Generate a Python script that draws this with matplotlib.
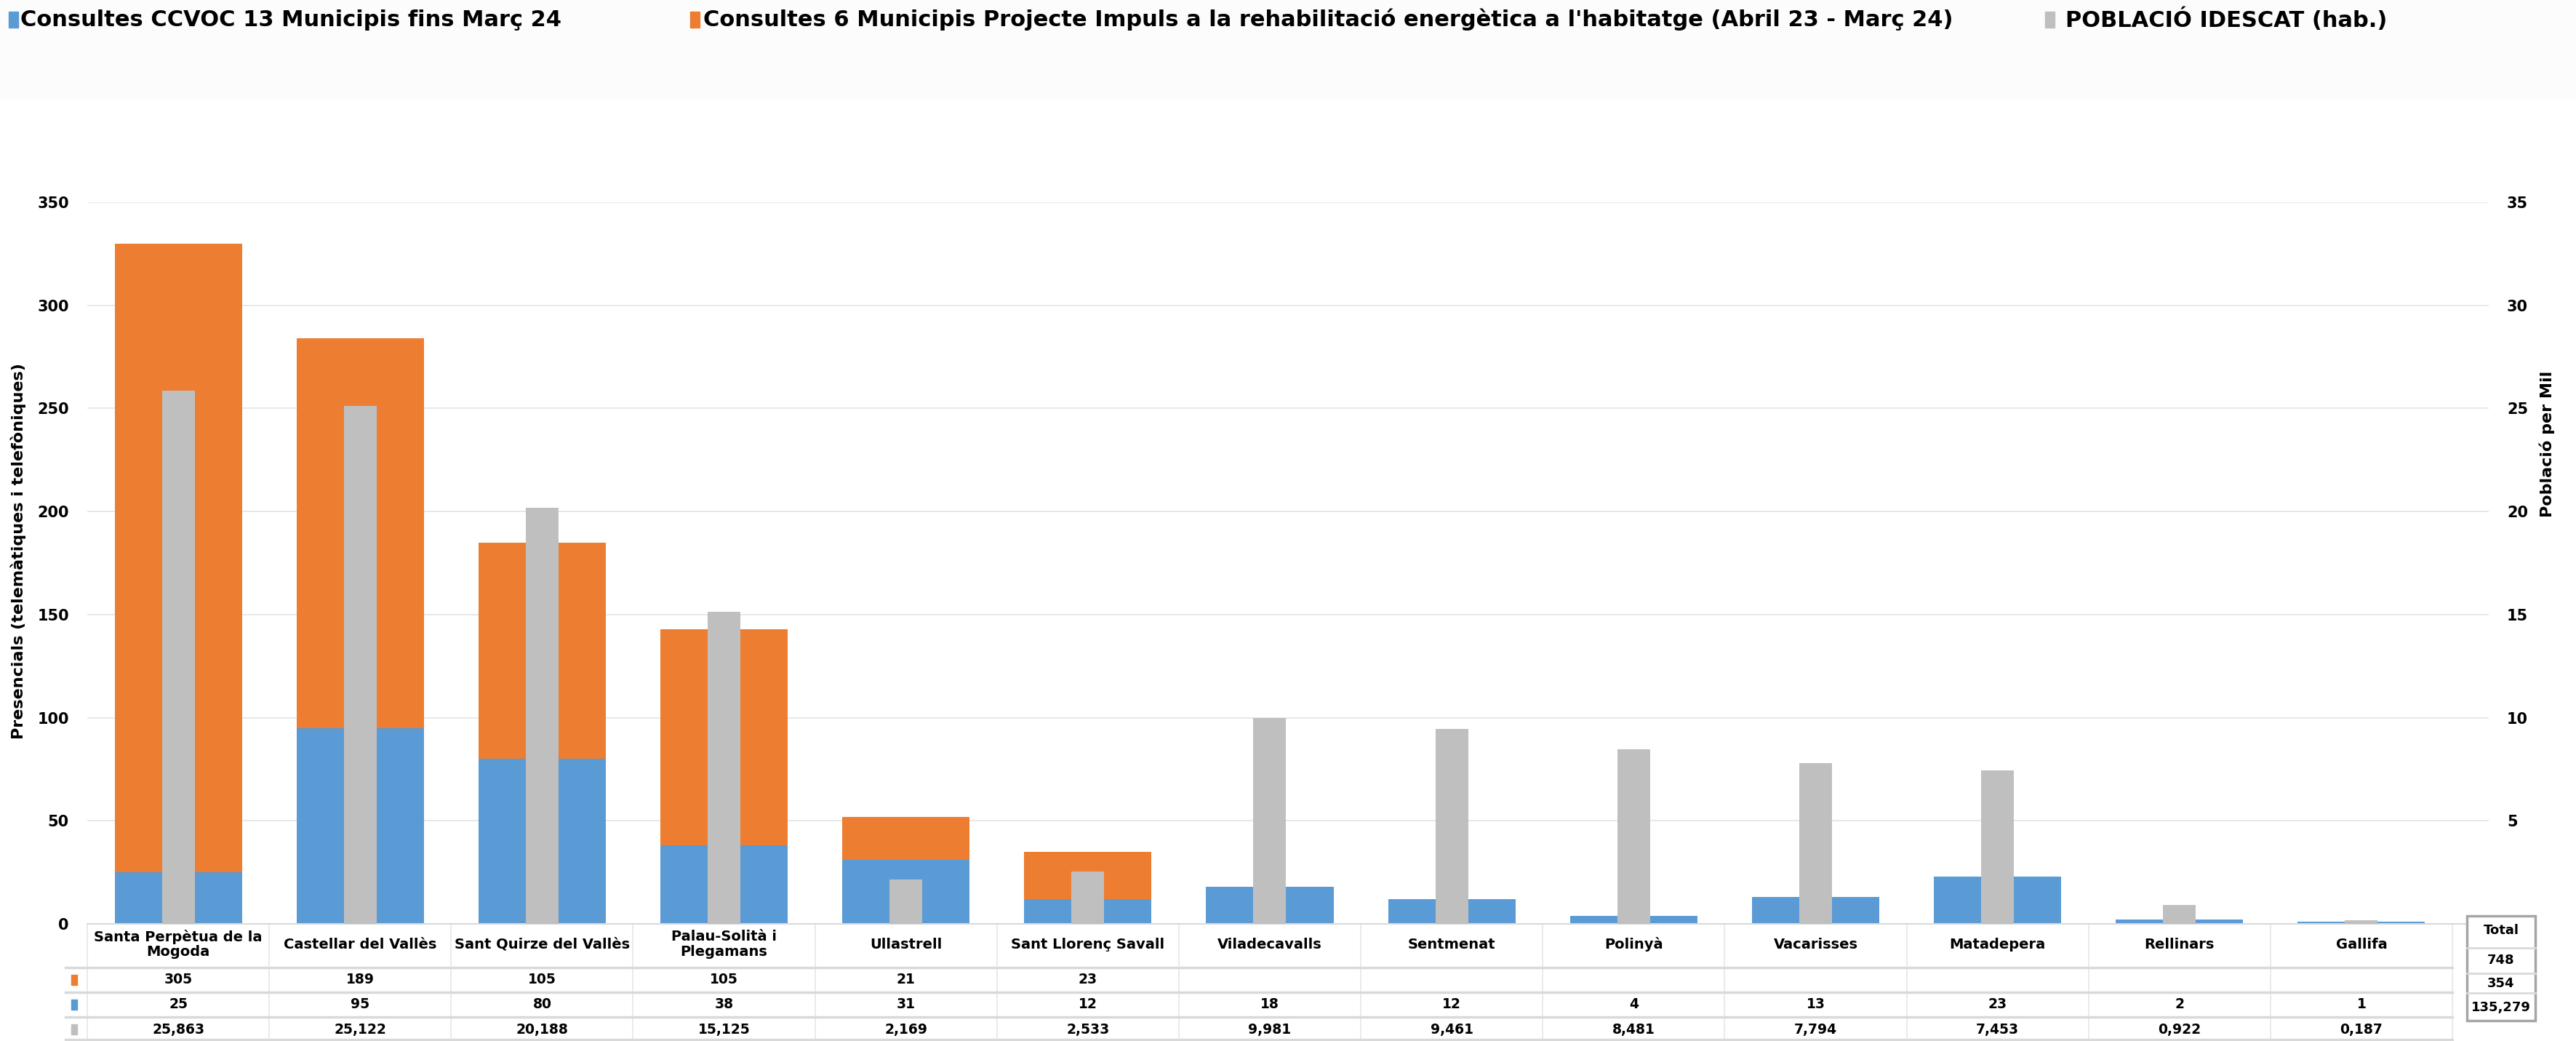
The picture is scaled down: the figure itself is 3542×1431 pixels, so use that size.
import numpy as np
import matplotlib
matplotlib.use('Agg')
import matplotlib.pyplot as plt
from matplotlib.patches import Rectangle
from matplotlib.transforms import blended_transform_factory

# ---------------------------------------------------------------------------
# Data
# ---------------------------------------------------------------------------
MUNICIPIS = [
    'Santa Perpètua de la\nMogoda', 'Castellar del Vallès',
    'Sant Quirze del Vallès', 'Palau-Solità i\nPlegamans', 'Ullastrell',
    'Sant Llorenç Savall', 'Viladecavalls', 'Sentmenat', 'Polinyà',
    'Vacarisses', 'Matadepera', 'Rellinars', 'Gallifa'
]
CCVOC = [25, 95, 80, 38, 31, 12, 18, 12, 4, 13, 23, 2, 1]
IMPULS = [305, 189, 105, 105, 21, 23, None, None, None, None, None, None, None]
POBLACIO = [25.863, 25.122, 20.188, 15.125, 2.169, 2.533, 9.981, 9.461,
            8.481, 7.794, 7.453, 0.922, 0.187]

LBL_CCVOC = 'Consultes CCVOC 13 Municipis fins Març 24'
LBL_IMPULS = ('Consultes 6 Municipis Projecte Impuls a la rehabilitació '
              "energètica a l'habitatge (Abril 23 - Març 24)")
LBL_POB = 'POBLACIÓ IDESCAT (hab.)'

(BLUE, ORANGE, GREY) = ('#5B9BD5', '#ED7D31', '#BFBFBF')
LINE = '#d9d9d9'
GRID = '#e6e6e6'
W, H = 3542, 1431


def fy(px):
    # pixel row (from top) -> figure fraction
    return 1 - px / H


def fx(px):
    return px / W


def fmt_pob(v):
    return f'{v:,.3f}'.replace('.', ',')


plt.rcParams['font.family'] = ['DejaVu Sans']
plt.rcParams['font.weight'] = 'bold'

x = np.arange(len(MUNICIPIS))
impuls = np.array([np.nan if v is None else v for v in IMPULS], dtype=float)

fig = plt.figure(figsize=(W / 100, H / 100), dpi=100)
fig.patches.append(Rectangle((0, fy(135)), 1, fy(0) - fy(135),
                             transform=fig.transFigure, color='#fcfcfc',
                             zorder=0))
ax = fig.add_axes([fx(120), fy(1270), fx(3422) - fx(120), fy(278) - fy(1270)])
ax.bar(x, CCVOC, width=0.7, color=BLUE, zorder=2)
ax.bar(x, np.nan_to_num(impuls), bottom=CCVOC, width=0.7, color=ORANGE,
       zorder=2)
ax.set_ylim(0, 350)
ax.set_xlim(-0.5, 12.7)
ax.set_yticks(range(0, 351, 50))
ax.set_xticks([])
ax.grid(axis='y', color=GRID, linewidth=1.3, zorder=0)
ax.set_axisbelow(True)
ax.tick_params(axis='y', length=0, pad=18, labelsize=15)
for s in ['top', 'right', 'left']:
    ax.spines[s].set_visible(False)
ax.spines['bottom'].set_color(LINE)
ax.spines['bottom'].set_linewidth(1.5)
ax.set_ylabel('Presencials (telemàtiques i telefòniques)', fontsize=16,
              fontweight='bold')
ax.yaxis.set_label_coords(-0.0255, 0.517)

ax2 = ax.twinx()
ax2.bar(x, POBLACIO, width=0.18, color=GREY, zorder=3)
ax2.set_ylim(0, 35)
ax2.set_yticks(range(0, 36, 5))
ax2.set_yticklabels([''] + [str(v) for v in range(5, 36, 5)])
ax2.tick_params(axis='y', length=0, pad=18, labelsize=15)
for s in ['top', 'right', 'left', 'bottom']:
    ax2.spines[s].set_visible(False)
ax2.set_ylabel('Població per Mil', fontsize=16, fontweight='bold')
ax2.yaxis.set_label_coords(1.021, 0.665)

# ---------------------------------------------------------------------------
# Data table under the chart
# ---------------------------------------------------------------------------
tr = blended_transform_factory(ax.transData, fig.transFigure)
(Y_HEAD, Y_R1, Y_R2, Y_R3) = (fy(1298), fy(1347), fy(1381), fy(1415))
for xb in np.arange(-0.5, 13, 1):
    ax.plot([xb, xb], [fy(1270), fy(1431)], transform=tr, color=GRID,
            linewidth=1.2, clip_on=False)
x_end = ax.transData.transform((12.5, 0))[0] / W
for yl in [1330, 1364, 1398, 1429]:
    fig.add_artist(plt.Line2D([fx(90), x_end], [fy(yl), fy(yl)],
                              transform=fig.transFigure,
                              color=LINE, linewidth=2.5))
for i, name in enumerate(MUNICIPIS):
    ax.text(i, Y_HEAD, name, transform=tr, ha='center', va='center',
            fontsize=14, fontweight='bold', linespacing=1.1)
    if not np.isnan(impuls[i]):
        ax.text(i, Y_R1, f'{int(impuls[i])}', transform=tr, ha='center',
                va='center', fontsize=13.5, fontweight='bold')
    ax.text(i, Y_R2, f'{CCVOC[i]}', transform=tr, ha='center', va='center',
            fontsize=13.5, fontweight='bold')
    ax.text(i, Y_R3, fmt_pob(POBLACIO[i]), transform=tr, ha='center',
            va='center', fontsize=13.5, fontweight='bold')
for (yy, col) in [(1347, ORANGE), (1381, BLUE), (1415, GREY)]:
    fig.patches.append(Rectangle((fx(98), fy(yy + 7)), fx(8), 14 / H,
                                 transform=fig.transFigure, color=col))

# Total box
fig.patches.append(Rectangle((fx(3392), fy(1403)), fx(3486 - 3392),
                             (1403 - 1259) / H, transform=fig.transFigure,
                             facecolor='white', edgecolor='#a6a6a6',
                             linewidth=2.5, zorder=5))
for yl in [1303, 1338, 1365]:
    fig.add_artist(plt.Line2D([fx(3392), fx(3486)], [fy(yl), fy(yl)],
                              transform=fig.transFigure, color=LINE,
                              linewidth=2, zorder=6))
totals = ['Total', f'{int(np.nansum(impuls))}', f'{sum(CCVOC)}',
          fmt_pob(sum(POBLACIO))]
for (t, yy) in zip(totals, [1279, 1320, 1352, 1385]):
    fig.text(fx(3439), fy(yy), t, ha='center', va='center', fontsize=13,
             fontweight='bold', zorder=7)

# ---------------------------------------------------------------------------
# Legend
# ---------------------------------------------------------------------------
for (mx, tx, col, lbl) in [(12, 28, BLUE, LBL_CCVOC),
                           (949, 967, ORANGE, LBL_IMPULS),
                           (2812, 2840, GREY, LBL_POB)]:
    fig.patches.append(Rectangle((fx(mx), fy(38)), fx(13), 22 / H,
                                 transform=fig.transFigure, color=col))
    fig.text(fx(tx), fy(27), lbl, ha='left', va='center', fontsize=22,
             fontweight='bold')

fig.savefig('out.png', dpi=100)
plt.close('all')
